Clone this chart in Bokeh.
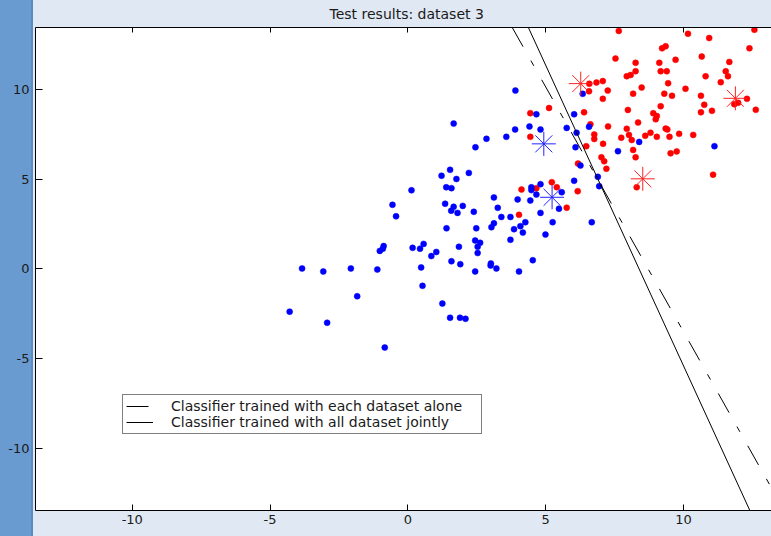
from bokeh.plotting import figure
from bokeh.models import Range1d, LinearAxis, FixedTicker, Legend, LegendItem
from bokeh.embed import file_html
from bokeh.resources import INLINE

title_text = "Test results: dataset 3"
x_ticks = [-10, -5, 0, 5, 10]
y_ticks = [-10, -5, 0, 5, 10]
x_tick_labels = ["-10", "-5", "0", "5", "10"]
y_tick_labels = ["-10", "-5", "0", "5", "10"]

blue_x = [4.66, 6.03, 1.66, 4.41, 4.81, 3.89, 3.57, 2.85, 2.45, 5.76,
          6.12, 6.08, 6.57, 6.26, 7.62, 1.53, 1.22, 1.76, 2.21, 1.39,
          1.58, 0.13, -0.56, -0.43, 1.35, 1.66, 1.99, 1.57, 1.80, 2.39,
          3.12, 3.26, 3.98, 4.48, 4.48, 4.81, 4.66, 4.44, 5.58, 6.03,
          5.48, 6.89, 6.94, 3.39, 3.72, 4.81, 3.12, 3.03, 4.08, 4.26,
          3.85, 4.17, 5.25, 6.67, 1.40, 2.48, 3.72, 4.99, 2.44, 2.62,
          2.53, 2.53, 1.85, 1.03, 0.85, 0.17, 0.44, 0.57, -0.88, -0.91,
          -1.02, 1.58, 1.90, 0.48, 3.01, 3.00, 3.21, 2.44, 4.03, 4.53,
          -3.84, -3.07, -2.07, -1.11, 0.53, -1.84, 1.25, -4.29, -2.93, 1.53,
          1.89, 2.09, -0.84, 3.90, 6.34, 8.39, 11.12]
blue_y = [8.62, 8.62, 8.10, 7.94, 7.77, 7.77, 7.36, 7.25, 6.78, 7.86,
          7.59, 6.78, 7.92, 5.76, 6.56, 5.52, 5.19, 5.01, 5.35, 4.55,
          4.50, 4.38, 3.57, 2.93, 3.63, 3.46, 3.51, 3.24, 3.12, 3.18,
          3.98, 3.40, 3.87, 4.55, 4.39, 4.72, 4.14, 3.81, 4.27, 4.91,
          3.35, 5.13, 4.61, 2.89, 2.89, 3.12, 2.54, 2.32, 2.38, 2.60,
          2.21, 2.02, 2.60, 2.60, 2.26, 2.26, 1.62, 1.91, 1.58, 1.45,
          1.23, 0.88, 1.23, 0.94, 0.71, 1.17, 1.12, 1.39, 1.27, 1.12,
          1.00, 0.42, 0.26, 0.08, 0.30, 0.18, 0.02, -0.15, -0.15, 0.48,
          0.02, -0.15, 0.02, -0.04, -0.95, -1.53, -1.94, -2.39, -3.01, -2.73,
          -2.73, -2.79, -4.39, 9.94, 9.76, 7.08, 6.84]

red_x = [4.44, 5.12, 6.39, 4.44, 6.47, 6.17, 4.12, 4.66, 5.22, 5.40,
         6.16, 5.76, 4.03, 6.62, 6.76, 6.76, 7.08, 7.02, 7.12, 7.20,
         7.26, 7.74, 7.94, 8.02, 8.12, 8.17, 8.26, 8.30, 6.58, 6.84,
         7.07, 6.57, 7.25, 7.07, 7.94, 8.08, 8.26, 8.26, 8.17, 7.98,
         8.35, 7.65, 7.53, 9.22, 9.35, 9.12, 9.71, 9.17, 9.39, 9.44,
         8.48, 9.30, 9.58, 9.17, 8.90, 9.03, 8.99, 9.35, 9.41, 8.80,
         8.61, 9.03, 9.49, 9.84, 9.53, 9.75, 10.16, 10.93, 12.57, 12.39,
         10.66, 11.66, 11.53, 11.61, 10.80, 11.35, 10.07, 10.63, 12.30, 11.84,
         11.98, 10.75, 10.63, 11.03, 12.62, 10.35, 11.07]
red_y = [8.68, 8.97, 8.73, 7.36, 6.84, 5.87, 4.42, 4.50, 4.83, 4.55,
         4.33, 3.41, 3.01, 8.06, 7.49, 7.24, 6.97, 6.22, 6.00, 5.58,
         7.94, 7.31, 7.81, 7.47, 7.18, 6.63, 6.22, 4.55, 10.32, 10.39,
         10.47, 9.90, 9.94, 9.48, 10.74, 10.81, 11.02, 11.49, 9.77, 8.86,
         8.16, 13.27, 11.73, 12.30, 12.41, 11.49, 11.66, 11.02, 11.02, 10.35,
         10.11, 9.77, 9.65, 9.07, 8.68, 8.52, 8.34, 7.82, 7.77, 7.59,
         7.42, 7.36, 7.36, 7.53, 6.44, 6.55, 13.11, 12.87, 13.33, 12.30,
         11.84, 11.54, 11.02, 10.74, 10.74, 10.41, 10.04, 9.65, 9.48, 9.18,
         9.26, 9.15, 8.73, 8.81, 8.87, 7.47, 5.25]

blue_mean_x = [4.93, 5.23]
blue_mean_y = [6.97, 3.99]
red_mean_x = [6.27, 11.88, 8.52]
red_mean_y = [10.33, 9.51, 5.02]

alone_x = [3.785, 13.5]
alone_y = [13.46, -13.07]
joint_x = [4.21, 12.56]
joint_y = [14.0, -14.0]

legend_labels = ["Classifier trained with each dataset alone",
                 "Classifier trained with all dataset jointly"]

FONT = "DejaVu Sans"
TXT = "#1a1a1a"

p = figure(width=771, height=536, output_backend="svg", toolbar_location=None,
           x_range=Range1d(-13.51, 13.19), y_range=Range1d(-13.48, 13.46),
           min_border_left=35, min_border_right=0, min_border_top=27,
           min_border_bottom=26, title=title_text)

p.styles = {"background": "linear-gradient(to right, #6a9bd0 0px, #6a9bd0 31px, "
                          "#5a8bc4 31px, #5a8bc4 33px, #dfe8f3 33px)"}
p.border_fill_color = None
p.background_fill_color = "white"
p.outline_line_color = None
p.grid.visible = False

p.title.align = "left"
p.title.offset = 294
p.title.vertical_align = "top"
p.title.standoff = 8
p.title.text_font = FONT
p.title.text_font_size = "14px"
p.title.text_font_style = "normal"
p.title.text_color = TXT

for ax, ticks, labels in ((p.xaxis[0], x_ticks, x_tick_labels),
                          (p.yaxis[0], y_ticks, y_tick_labels)):
    ax.ticker = FixedTicker(ticks=ticks, minor_ticks=[])
    ax.major_label_overrides = {t: s for t, s in zip(ticks, labels)}
    ax.major_tick_in = 6
    ax.major_tick_out = 0
    ax.minor_tick_in = 0
    ax.minor_tick_out = 0
    ax.axis_line_color = "black"
    ax.major_tick_line_color = "black"
    ax.major_label_text_font = FONT
    ax.major_label_text_font_size = "13px"
    ax.major_label_text_color = TXT
p.xaxis[0].major_label_standoff = 4
p.yaxis[0].major_label_standoff = 6
p.yaxis[0].major_tick_in = 7

top = LinearAxis(ticker=FixedTicker(ticks=x_ticks, minor_ticks=[]),
                 major_label_text_color=None, major_label_text_font_size="1px",
                 major_label_standoff=0, axis_label_standoff=0,
                 major_tick_in=5, major_tick_out=0, minor_tick_in=0, minor_tick_out=0,
                 axis_line_color="black")
p.add_layout(top, "above")

p.scatter(red_x, red_y, size=6, fill_color="#ff0000", line_color="#ff0000", line_width=0.5)
p.scatter(blue_x, blue_y, size=6, fill_color="#0000ff", line_color="#0000ff", line_width=0.5)
p.scatter(blue_mean_x, blue_mean_y, marker="asterisk", size=24, line_color="#2222ff", line_width=1)
p.scatter(red_mean_x, red_mean_y, marker="asterisk", size=24, line_color="#ff2222", line_width=1)

r_alone = p.line(alone_x, alone_y, line_color="black", line_width=1, line_dash="22 16 6 16")
r_joint = p.line(joint_x, joint_y, line_color="black", line_width=1)

legend = Legend(items=[LegendItem(label=legend_labels[0], renderers=[r_alone]),
                       LegendItem(label=legend_labels[1], renderers=[r_joint])],
                location=(87, 76), orientation="vertical",
                label_text_font=FONT, label_text_font_size="14px", label_text_color=TXT,
                label_height=16, glyph_height=16, glyph_width=27, label_standoff=18,
                label_width=307, padding=3, spacing=0, margin=0,
                border_line_color="black", border_line_width=1,
                background_fill_color="white", background_fill_alpha=1.0)
p.add_layout(legend)

open("out.html", "w").write(file_html(p, INLINE))
